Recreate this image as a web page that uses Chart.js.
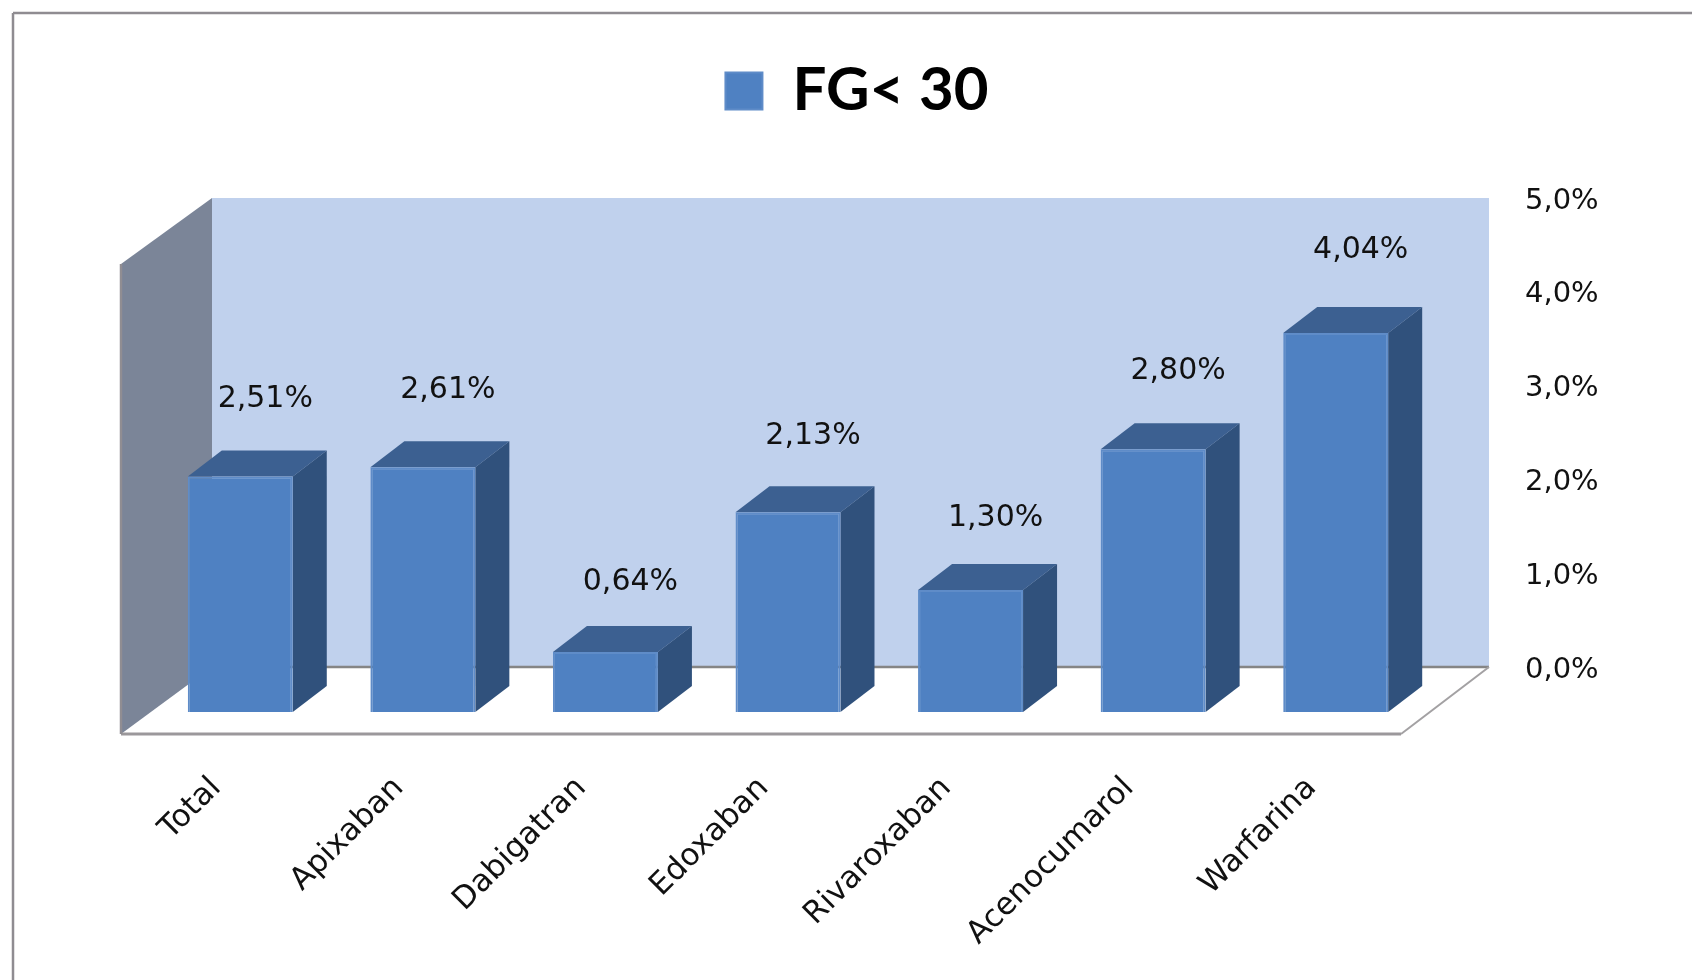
<!DOCTYPE html>
<html>
<head>
<meta charset="utf-8">
<title>FG&lt; 30</title>
<script src="https://cdn.jsdelivr.net/npm/chart.js@4"></script>
<style>
    html, body { margin: 0; padding: 0; background: #fff; }
    #box { position: relative; width: 1692px; height: 980px; }
</style>
</head>
<body>
<div id="box"><canvas id="grafico"></canvas></div>
<script>
const categories = ["Total", "Apixaban", "Dabigatran", "Edoxaban", "Rivaroxaban", "Acenocumarol", "Warfarina"];
const fg30 = [2.51, 2.61, 0.64, 2.13, 1.30, 2.80, 4.04];
const tickLabels = ["0,0%", "1,0%", "2,0%", "3,0%", "4,0%", "5,0%"];

// depth of the fake 3D box and of each bar
const wallDx = 91, wallDy = 45;
const barDx = 34, barDy = 26;
const textFont = "'DejaVu Sans', sans-serif";

function poly(ctx, pts, fill){
    ctx.beginPath();
    ctx.moveTo(pts[0][0], pts[0][1]);
    for (let i = 1; i < pts.length; i++) ctx.lineTo(pts[i][0], pts[i][1]);
    ctx.closePath();
    ctx.fillStyle = fill;
    ctx.fill();
}

function line(ctx, x1, y1, x2, y2, color, width){
    ctx.beginPath();
    ctx.moveTo(x1, y1);
    ctx.lineTo(x2, y2);
    ctx.strokeStyle = color;
    ctx.lineWidth = width;
    ctx.stroke();
}

// outer frame, only top and left are inside the canvas
const framePlugin = {
    id: "frame",
    beforeDraw(chart){
        const ctx = chart.ctx;
        line(ctx, 13, 13, 1692, 13, "#8f8c91", 2.5);
        line(ctx, 13, 13, 13, 980, "#8f8c91", 2.5);
    }
};

// back wall, side wall and floor
const boxPlugin = {
    id: "box3d",
    beforeDatasetsDraw(chart){
        const ctx = chart.ctx;
        const y = chart.scales.y;
        const a = chart.chartArea;
        const top = y.getPixelForValue(5);
        const zero = y.getPixelForValue(0);
        const left = a.left - 28, right = a.right - 26;
        const floorFront = zero + 22;
        const backLeft = left + wallDx, backRight = right + 88;
        const backTop = top - wallDy, backBottom = floorFront - 67;

        ctx.save();
        poly(ctx, [[backLeft, backTop], [backRight, backTop], [backRight, backBottom], [backLeft, backBottom]], "#c0d1ed");
        poly(ctx, [[left, top + 21], [backLeft, backTop], [backLeft, backBottom], [left, floorFront]], "#7b8598");
        line(ctx, backLeft, backBottom, backRight, backBottom, "#858585", 2.5);
        line(ctx, left, floorFront, right, floorFront, "#9b989b", 3);
        line(ctx, right, floorFront, backRight, backBottom, "#a3a1a3", 2);
        line(ctx, left, top + 21, left, floorFront, "#908d92", 2.5);
        ctx.restore();
    }
};

// top and side faces of the bars, then the value labels
const barsPlugin = {
    id: "bars3d",
    beforeDatasetDraw(chart){
        const ctx = chart.ctx;
        ctx.save();
        chart.getDatasetMeta(0).data.forEach(function(bar){
            const l = bar.x - bar.width / 2, r = bar.x + bar.width / 2;
            poly(ctx, [[l, bar.y], [l + barDx, bar.y - barDy], [r + barDx, bar.y - barDy], [r, bar.y]], "#3c6091");
            poly(ctx, [[r, bar.y], [r + barDx, bar.y - barDy], [r + barDx, bar.base - barDy], [r, bar.base]], "#30517c");
        });
        ctx.restore();
    },
    afterDatasetsDraw(chart){
        const ctx = chart.ctx;
        ctx.save();
        ctx.font = "30px " + textFont;
        ctx.fillStyle = "#111";
        ctx.textAlign = "center";
        ctx.textBaseline = "middle";
        chart.getDatasetMeta(0).data.forEach(function(bar, i){
            const txt = fg30[i].toFixed(2).replace(".", ",") + "%";
            ctx.fillText(txt, bar.x + 25, bar.y - 67 - 4 * fg30[i]);
        });
        ctx.restore();
    }
};

const ctx = document.getElementById("grafico").getContext("2d");

const myChart = new Chart(ctx, {
    type: "bar",
    data: {
        labels: categories,
        datasets: [{
            label: "FG< 30",
            data: fg30,
            backgroundColor: "#4f81c2",
            borderColor: "#5f8cc8",
            borderWidth: 2,
            categoryPercentage: 1,
            barPercentage: 0.575
        }]
    },
    options: {
        responsive: true,
        maintainAspectRatio: false,
        animation: false,
        layout: { padding: { left: 149, right: 127, top: 27, bottom: 0 } },
        plugins: {
            tooltip: { enabled: false },
            legend: {
                position: "top",
                labels: {
                    boxWidth: 37,
                    boxHeight: 37,
                    padding: 34,
                    color: "#000",
                    font: { family: "Lato, sans-serif", size: 60, weight: "bold" }
                }
            }
        },
        scales: {
            x: {
                grid: { display: false, drawBorder: false },
                border: { display: false },
                afterFit(scale){ scale.height = 268; },
                ticks: {
                    minRotation: 45,
                    maxRotation: 45,
                    autoSkip: false,
                    padding: 50,
                    labelOffset: -24,
                    color: "#111",
                    font: { family: textFont, size: 31 }
                }
            },
            y: {
                position: "right",
                min: 0,
                max: 5,
                grid: { display: false },
                border: { display: false },
                afterFit(scale){ scale.width = 138; },
                ticks: {
                    stepSize: 1,
                    padding: 90,
                    labelOffset: -42,
                    color: "#111",
                    font: { family: textFont, size: 29 },
                    callback: function(value){ return tickLabels[value]; }
                }
            }
        }
    },
    plugins: [framePlugin, boxPlugin, barsPlugin, {
        // room under the legend before the plot starts, and room for the tick text
        id: "layoutTweaks",
        beforeInit(chart){
            const fit = chart.legend.fit;
            chart.legend.fit = function(){
                fit.bind(chart.legend)();
                this.height += 112;
            };
        },
        afterLayout(chart){
            chart.scales.y.right = chart.width;
        }
    }]
});
</script>
</body>
</html>
